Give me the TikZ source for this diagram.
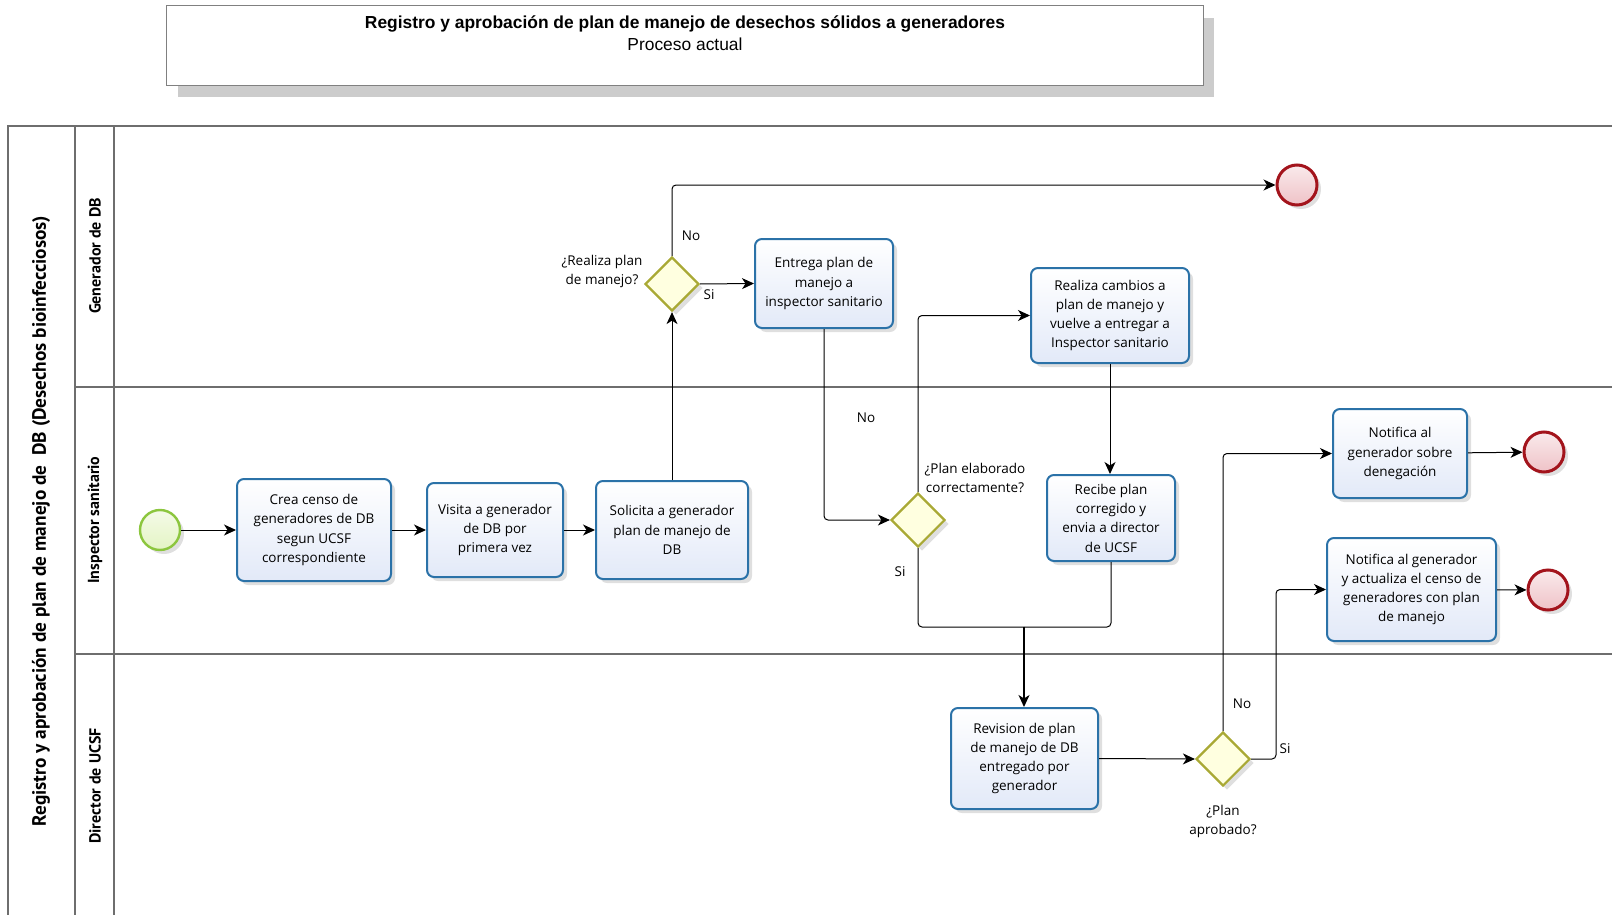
\documentclass[tikz,border=0pt]{standalone}
\usepackage{fontspec}
\setmainfont{Open Sans}
\newfontfamily\titlefont{Liberation Sans}
\newfontfamily\lanefont{PT Sans}
\usetikzlibrary{shapes.geometric,arrows.meta,shadows}
\definecolor{taskborder}{HTML}{2B72A8}
\definecolor{taskfill}{HTML}{E2E9F8}
\definecolor{gwborder}{HTML}{A9A935}
\definecolor{gwfill}{HTML}{FFFFE0}
\definecolor{startborder}{HTML}{8CC63E}
\definecolor{startfill}{HTML}{E4F4C4}
\definecolor{endborder}{HTML}{A3141C}
\definecolor{endfill}{HTML}{EFC2C7}
\definecolor{laneline}{HTML}{6E6E6E}
\tikzset{
  myshadow/.style={drop shadow={shadow xshift=4pt, shadow yshift=-4pt, opacity=0.28, fill=black!45}},
  task/.style={draw=taskborder, line width=2pt, rounded corners=7pt, top color=white, bottom color=taskfill,
    align=center, font=\fontsize{13.5}{19.3}\selectfont, inner sep=0pt, myshadow},
  gw/.style={diamond, aspect=1, minimum width=54pt, minimum height=54pt, inner sep=0pt,
    draw=gwborder, line width=2.2pt, fill=gwfill, myshadow},
  startev/.style={circle, minimum size=40pt, inner sep=0pt, draw=startborder, line width=2.4pt,
    top color=startfill!40, bottom color=startfill, myshadow},
  endev/.style={circle, minimum size=40pt, inner sep=0pt, draw=endborder, line width=3pt,
    top color=endfill!35, bottom color=endfill, myshadow},
  flow/.style={draw=black, line width=1pt, -{Stealth[length=12pt,width=11pt,inset=3.5pt]}, rounded corners=4pt},
  plainline/.style={draw=black, line width=1pt, rounded corners=4pt},
  lbl/.style={font=\fontsize{13.5}{19}\selectfont, align=center, inner sep=0pt},
  lane/.style={draw=laneline, line width=1.5pt},
  lanetext/.style={font=\lanefont\bfseries\fontsize{16}{18}\selectfont, rotate=90, inner sep=0pt},
}
\begin{document}
\begin{tikzpicture}[x=1pt, y=-1pt]
\useasboundingbox (0,0) rectangle (1612,915);
% title
\fill[black!25, opacity=0.8] (178,18) rectangle (1214,97);
\node[draw=black!50, line width=1pt, fill=white, minimum width=1037pt, minimum height=80pt, inner sep=0pt] (titlebox) at (684.5,46) {};
\node[font=\titlefont\bfseries\fontsize{17.4}{20}\selectfont, inner sep=0pt] (title1) at (685,23.5) {Registro y aprobación de plan de manejo de desechos sólidos a generadores};
\node[font=\titlefont\fontsize{17.4}{20}\selectfont, inner sep=0pt] (title2) at (685,44) {Proceso actual};
% pool and lanes
\draw[lane] (1612,126) -- (8,126) -- (8,915);
\draw[lane] (75,126) -- (75,915);
\draw[lane] (114,126) -- (114,915);
\draw[lane] (75,387) -- (1612,387);
\draw[lane] (75,654) -- (1612,654);
\node[font=\lanefont\bfseries\fontsize{19.3}{22}\selectfont, rotate=90, inner sep=0pt] (pooltext) at (41,521) {Registro y aprobación de plan de manejo de\ \ DB (Desechos bioinfecciosos)};
\node[lanetext] (lane1) at (95,256) {Generador de DB};
\node[lanetext] (lane2) at (95,520) {Inspector sanitario};
\node[lanetext] (lane3) at (95,786) {Director de UCSF};
% nodes
\node[startev] (start) at (160,530) {};
\node[task, minimum width=154pt, minimum height=102pt] (crea) at (314,530) {Crea censo de\\generadores de DB\\segun UCSF\\correspondiente};
\node[task, minimum width=136pt, minimum height=94pt] (visita) at (495,530) {Visita a generador\\de DB por\\primera vez};
\node[task, minimum width=152pt, minimum height=98pt] (solicita) at (672,530) {Solicita a generador\\plan de manejo de\\DB};
\node[gw] (gw1) at (672,284) {};
\node[task, minimum width=138pt, minimum height=89pt] (entrega) at (824,283.5) {Entrega plan de\\manejo a\\inspector sanitario};
\node[endev] (endtop) at (1297,185) {};
\node[task, minimum width=158pt, minimum height=95pt] (realiza) at (1110,315.5) {Realiza cambios a\\plan de manejo y\\vuelve a entregar a\\Inspector sanitario};
\node[gw] (gw2) at (918,520) {};
\node[task, minimum width=128pt, minimum height=86pt] (recibe) at (1111,518) {Recibe plan\\corregido y\\envia a director\\de UCSF};
\node[task, minimum width=147pt, minimum height=101pt] (revision) at (1024.5,758.5) {Revision de plan\\de manejo de DB\\entregado por\\generador};
\node[gw] (gw3) at (1223,759) {};
\node[task, minimum width=134pt, minimum height=89pt] (notden) at (1400,453.5) {Notifica al\\generador sobre\\denegación};
\node[task, minimum width=169pt, minimum height=103pt] (notact) at (1411.5,589.5) {Notifica al generador\\y actualiza el censo de\\generadores con plan\\de manejo};
\node[endev] (end2) at (1544,452) {};
\node[endev] (end3) at (1548,590) {};
% gateway questions
\node[lbl] (q1) at (602,271) {¿Realiza plan\\de manejo?};
\node[lbl] (q2) at (975,478) {¿Plan elaborado\\correctamente?};
\node[lbl] (q3) at (1223,821) {¿Plan\\aprobado?};
% branch labels
\node[lbl] (no1) at (691,236) {No};
\node[lbl] (si1) at (709,295) {Si};
\node[lbl] (no2) at (866,418) {No};
\node[lbl] (si2) at (900,572) {Si};
\node[lbl] (no3) at (1242,704) {No};
\node[lbl] (si3) at (1285,749) {Si};
% connectors
\coordinate (merge) at (1024,627);
\coordinate (siturn) at (1276,759);
\draw[flow] (start) -- (crea);
\draw[flow] (crea) -- (visita);
\draw[flow] (visita) -- (solicita);
\draw[flow] (solicita) -- (gw1);
\draw[flow] (gw1.east) -- (entrega.west);
\draw[flow] (gw1.north) |- (endtop.west);
\draw[flow] (entrega.south) |- (gw2.west);
\draw[flow] (gw2.north) |- (realiza.west);
\draw[flow] (realiza.south) -- (realiza.south |- recibe.north);
\draw[plainline] (gw2.south) |- (merge);
\draw[plainline] (recibe.south) |- (merge);
\draw[flow, line width=1.6pt] (merge) -- (merge |- revision.north);
\draw[flow] (revision.east) -- (gw3.west);
\draw[flow] (gw3.north) |- (notden.west);
\draw[flow] (gw3.east) -- (siturn) |- (notact.west);
\draw[flow] (notden) -- (end2);
\draw[flow] (notact) -- (end3);
\end{tikzpicture}
\end{document}
